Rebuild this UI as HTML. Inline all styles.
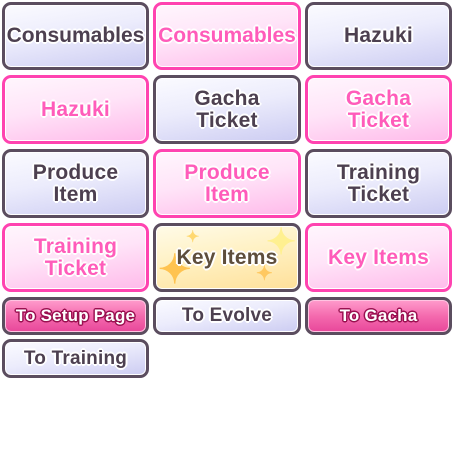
<!DOCTYPE html>
<html><head><meta charset="utf-8"><style>
html,body{margin:0;padding:0;background:#fff;width:454px;height:454px;overflow:hidden}
.b{position:absolute;box-sizing:border-box;border:3px solid #5b4d5f;border-radius:9px;display:flex;align-items:center;justify-content:center;text-align:center;font-family:"Liberation Sans",sans-serif;font-weight:bold;font-size:21px;line-height:22px;letter-spacing:0.2px;overflow:hidden}
.g{background:linear-gradient(170deg,#fbfbff 0%,#ececfc 45%,#ccccf2 100%);color:#4d4050;box-shadow:inset 0 0 0 1px #fff;
text-shadow:2px 0 #fff,-2px 0 #fff,0 2px #fff,0 -2px #fff,1px 1px #fff,-1px -1px #fff,1px -1px #fff,-1px 1px #fff}
.p{border-color:#ff43b0;background:linear-gradient(170deg,#fff6fd 0%,#ffe4f8 45%,#ffbaea 100%);color:#ff5cba;box-shadow:inset 0 0 0 1px #fff;
text-shadow:2px 0 #fff,-2px 0 #fff,0 2px #fff,0 -2px #fff,1px 1px #fff,-1px -1px #fff,1px -1px #fff,-1px 1px #fff}
.y{background:linear-gradient(170deg,#fffbe8 0%,#fff0c0 50%,#ffe09a 100%);color:#5e4e3c;box-shadow:inset 0 0 0 1px #fff;
text-shadow:2px 0 #fff,-2px 0 #fff,0 2px #fff,0 -2px #fff,1px 1px #fff,-1px -1px #fff,1px -1px #fff,-1px 1px #fff}
.s{font-size:17px}
.pk{background:linear-gradient(180deg,#ff9ccc 0%,#f46aae 50%,#e8479a 100%);color:#fff;box-shadow:inset 0 0 0 1px #ffc4e2;
text-shadow:1.5px 0 #9a1050,-1.5px 0 #9a1050,0 1.5px #9a1050,0 -1.5px #9a1050,1px 1px #9a1050,-1px -1px #9a1050,1px -1px #9a1050,-1px 1px #9a1050}
.st{position:absolute;color:#ffd460;font-size:40px;line-height:1;text-shadow:none}
</style></head><body>
<div class="b g" style="left:2px;top:2px;width:147px;height:68px;letter-spacing:0">Consumables</div>
<div class="b p" style="left:153px;top:2px;width:148px;height:68px;letter-spacing:0">Consumables</div>
<div class="b g" style="left:305px;top:2px;width:147px;height:68px">Hazuki</div>

<div class="b p" style="left:2px;top:75px;width:147px;height:69px">Hazuki</div>
<div class="b g" style="left:153px;top:75px;width:148px;height:69px">Gacha<br>Ticket</div>
<div class="b p" style="left:305px;top:75px;width:147px;height:69px">Gacha<br>Ticket</div>

<div class="b g" style="left:2px;top:149px;width:147px;height:69px">Produce<br>Item</div>
<div class="b p" style="left:153px;top:149px;width:148px;height:69px">Produce<br>Item</div>
<div class="b g" style="left:305px;top:149px;width:147px;height:69px">Training<br>Ticket</div>

<div class="b p" style="left:2px;top:223px;width:147px;height:69px">Training<br>Ticket</div>
<div class="b y" style="left:153px;top:223px;width:148px;height:69px">
<span class="st" style="left:2px;top:24px;color:#ffc350">✦</span>
<span class="st" style="left:30px;top:4px;font-size:16px;color:#ffd870">✦</span>
<span class="st" style="left:110px;top:-2px;font-size:36px;color:#fff090">✦</span>
<span class="st" style="left:100px;top:38px;font-size:20px;color:#ffc860">✦</span>
<span style="position:relative">Key Items</span></div>
<div class="b p" style="left:305px;top:223px;width:147px;height:69px">Key Items</div>

<div class="b pk s" style="left:2px;top:297px;width:147px;height:38px">To Setup Page</div>
<div class="b g s" style="left:153px;top:297px;width:148px;height:38px;font-size:19px">To Evolve</div>
<div class="b pk s" style="left:305px;top:297px;width:147px;height:38px">To Gacha</div>

<div class="b g" style="left:2px;top:339px;width:147px;height:39px;font-size:19px">To Training</div>
</body></html>
